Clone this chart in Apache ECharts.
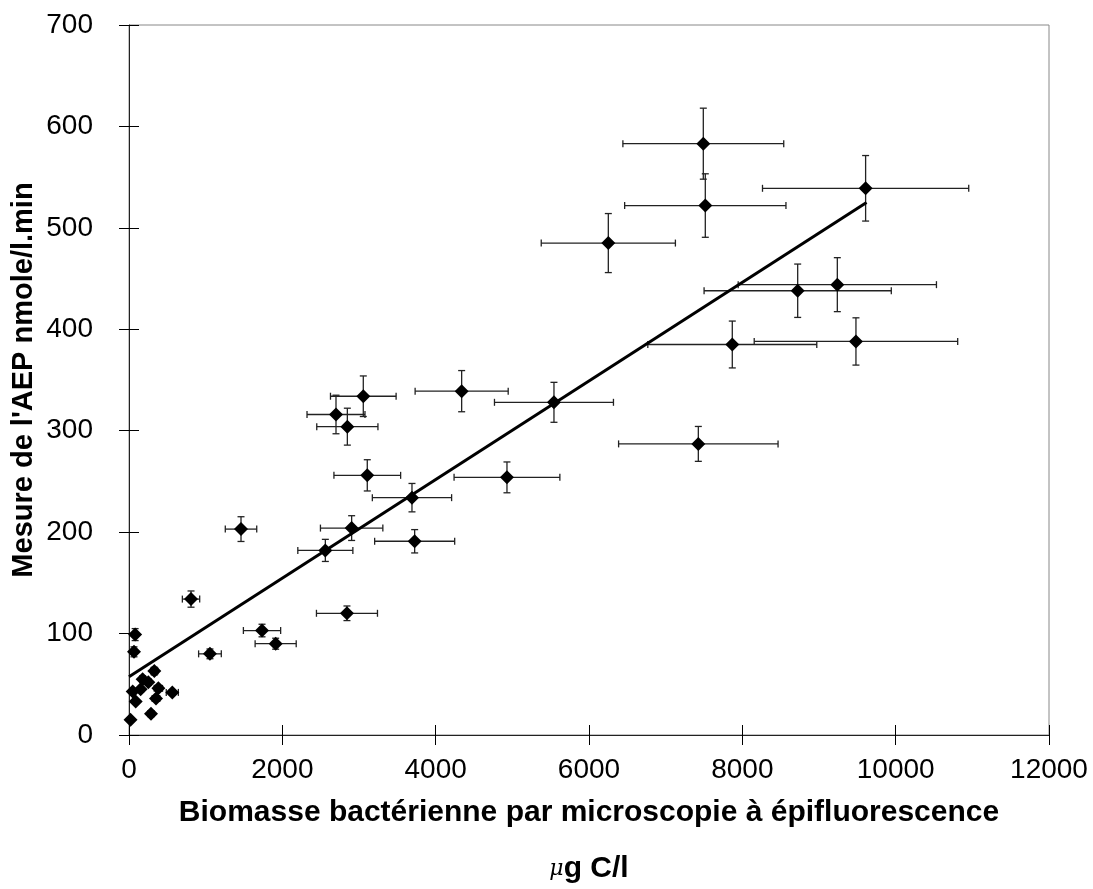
<!DOCTYPE html>
<html>
<head>
<meta charset="utf-8">
<title>AEP vs biomasse</title>
<script src="https://cdn.jsdelivr.net/npm/echarts@6/dist/echarts.min.js"></script>
<style>
  html, body { margin: 0; padding: 0; background: #fff; }
  #chart { width: 1093px; height: 889px; }
</style>
</head>
<body>
<div id="chart"></div>
<script>
// biomasse (µg C/l) et mesure AEP (nmole/l.min)
const biomasse = [20, 287, 87, 352, 48, 152, 383, 565, 178, 252, 330, 65, 80,
  1056, 1913, 1735, 809, 2843, 1461, 2561, 2904, 3726, 3691, 3108, 4930,
  2848, 2700, 3056, 4339, 5543, 7426, 7869, 9482, 8722, 9239, 6252, 7517, 7491, 9608]
const aep = [15, 21, 33, 36, 43, 45, 46, 42, 55, 52, 63, 82, 99,
  80, 90, 103, 134, 120, 203, 182, 204, 191, 234, 256, 254,
  304, 316, 334, 339, 328, 287, 385, 388, 438, 444, 485, 522, 583, 539]

// barres d'erreur (demi-largeur) en x et en y
const errX = [3, 40, 12, 49, 7, 21, 54, 79, 25, 35, 46, 9, 11,
  148, 268, 243, 113, 398, 205, 359, 407, 522, 517, 435, 690,
  399, 378, 428, 607, 776, 1040, 1102, 1327, 1221, 1293, 875, 1052, 1049, 1345]
const errY = [0.9, 1.3, 2, 2.2, 2.6, 2.7, 2.8, 2.5, 3.3, 3.1, 3.8, 4.9, 5.9,
  4.8, 5.4, 6.2, 8, 7.2, 12.2, 10.9, 12.2, 11.5, 14, 15.4, 15.2,
  18.2, 19, 20, 20.3, 19.7, 17.2, 23.1, 23.3, 26.3, 26.6, 29.1, 31.3, 35, 32.3]

// droite de régression (extrémités)
const trendX = [0, 9620]
const trendY = [57.5, 525]

const xTicks = { min: 0, max: 12000, interval: 2000 }
const yTicks = { min: 0, max: 700, interval: 100 }

const font = 'Liberation Sans, Arial, sans-serif'

const points = biomasse.map((x, i) => [x, aep[i]])
const errData = biomasse.map((x, i) => [x, aep[i], errX[i], errY[i]])
const trend = trendX.map((x, i) => [x, trendY[i]])

const chart = echarts.init(document.getElementById('chart'))

// dessin des barres d'erreur croisées avec petits traits
const renderErr = (params, api) => {
  const x = api.value(0)
  const y = api.value(1)
  const ex = api.value(2)
  const ey = api.value(3)
  const l = api.coord([x - ex, y])
  const r = api.coord([x + ex, y])
  const t = api.coord([x, y + ey])
  const b = api.coord([x, y - ey])
  const cap = 3.5
  const style = { stroke: '#222', lineWidth: 1.3 }
  const line = (x1, y1, x2, y2) => ({ type: 'line', shape: { x1, y1, x2, y2 }, style })
  return {
    type: 'group',
    children: [
      line(l[0], l[1], r[0], r[1]),
      line(l[0], l[1] - cap, l[0], l[1] + cap),
      line(r[0], r[1] - cap, r[0], r[1] + cap),
      line(t[0], t[1], b[0], b[1]),
      line(t[0] - cap, t[1], t[0] + cap, t[1]),
      line(b[0] - cap, b[1], b[0] + cap, b[1])
    ]
  }
}

const option = {
  animation: false,
  textStyle: { fontFamily: font },
  grid: {
    left: 129,
    right: 44,
    top: 25,
    bottom: 154,
    containLabel: false,
    outerBoundsMode: 'none',
    show: true,
    borderColor: '#888',
    borderWidth: 1
  },
  xAxis: [
    {
      type: 'value',
      position: 'bottom',
      ...xTicks,
      axisLine: { show: true, lineStyle: { color: '#222', width: 1 } },
      axisTick: { show: true, length: 10, lineStyle: { color: '#000' } },
      axisLabel: { fontSize: 28, color: '#000', margin: 21, fontFamily: font, formatter: v => String(v) },
      splitLine: { show: false },
      name: 'Biomasse bactérienne par microscopie à épifluorescence\n{mu|μ}g C/l',
      nameLocation: 'middle',
      nameGap: 50,
      nameMoveOverlap: false,
      nameTextStyle: {
        fontSize: 30,
        fontWeight: 'bold',
        color: '#000',
        fontFamily: font,
        lineHeight: 56,
        rich: {
          mu: { fontFamily: 'DejaVu Serif', fontStyle: 'italic', fontWeight: 'normal', fontSize: 22, color: '#000', lineHeight: 56 }
        }
      }
    },
    {
      type: 'value',
      position: 'bottom',
      ...xTicks,
      axisLine: { show: false },
      axisTick: { show: true, inside: true, length: 10, lineStyle: { color: '#000' } },
      axisLabel: { show: false },
      splitLine: { show: false }
    }
  ],
  yAxis: [
    {
      type: 'value',
      position: 'left',
      ...yTicks,
      axisLine: { show: true, lineStyle: { color: '#222', width: 1 } },
      axisTick: { show: true, length: 10, lineStyle: { color: '#000' } },
      axisLabel: { fontSize: 28, color: '#000', margin: 36, fontFamily: font },
      splitLine: { show: false },
      name: "Mesure de l'AEP nmole/l.min",
      nameLocation: 'middle',
      nameRotate: 90,
      nameGap: 91,
      nameMoveOverlap: false,
      nameTextStyle: { fontSize: 29, fontWeight: 'bold', color: '#000', fontFamily: font }
    },
    {
      type: 'value',
      position: 'left',
      ...yTicks,
      axisLine: { show: false },
      axisTick: { show: true, inside: true, length: 10, lineStyle: { color: '#000' } },
      axisLabel: { show: false },
      splitLine: { show: false }
    }
  ],
  series: [
    {
      type: 'custom',
      xAxisIndex: 0,
      yAxisIndex: 0,
      renderItem: renderErr,
      encode: { x: 0, y: 1 },
      data: errData,
      z: 1
    },
    {
      type: 'line',
      xAxisIndex: 0,
      yAxisIndex: 0,
      data: trend,
      symbol: 'none',
      lineStyle: { color: '#000', width: 3 },
      z: 2
    },
    {
      type: 'scatter',
      xAxisIndex: 0,
      yAxisIndex: 0,
      data: points,
      symbol: 'diamond',
      symbolSize: 14,
      itemStyle: { color: '#000', opacity: 1 },
      z: 3
    }
  ]
}

chart.setOption(option)
</script>
</body>
</html>
